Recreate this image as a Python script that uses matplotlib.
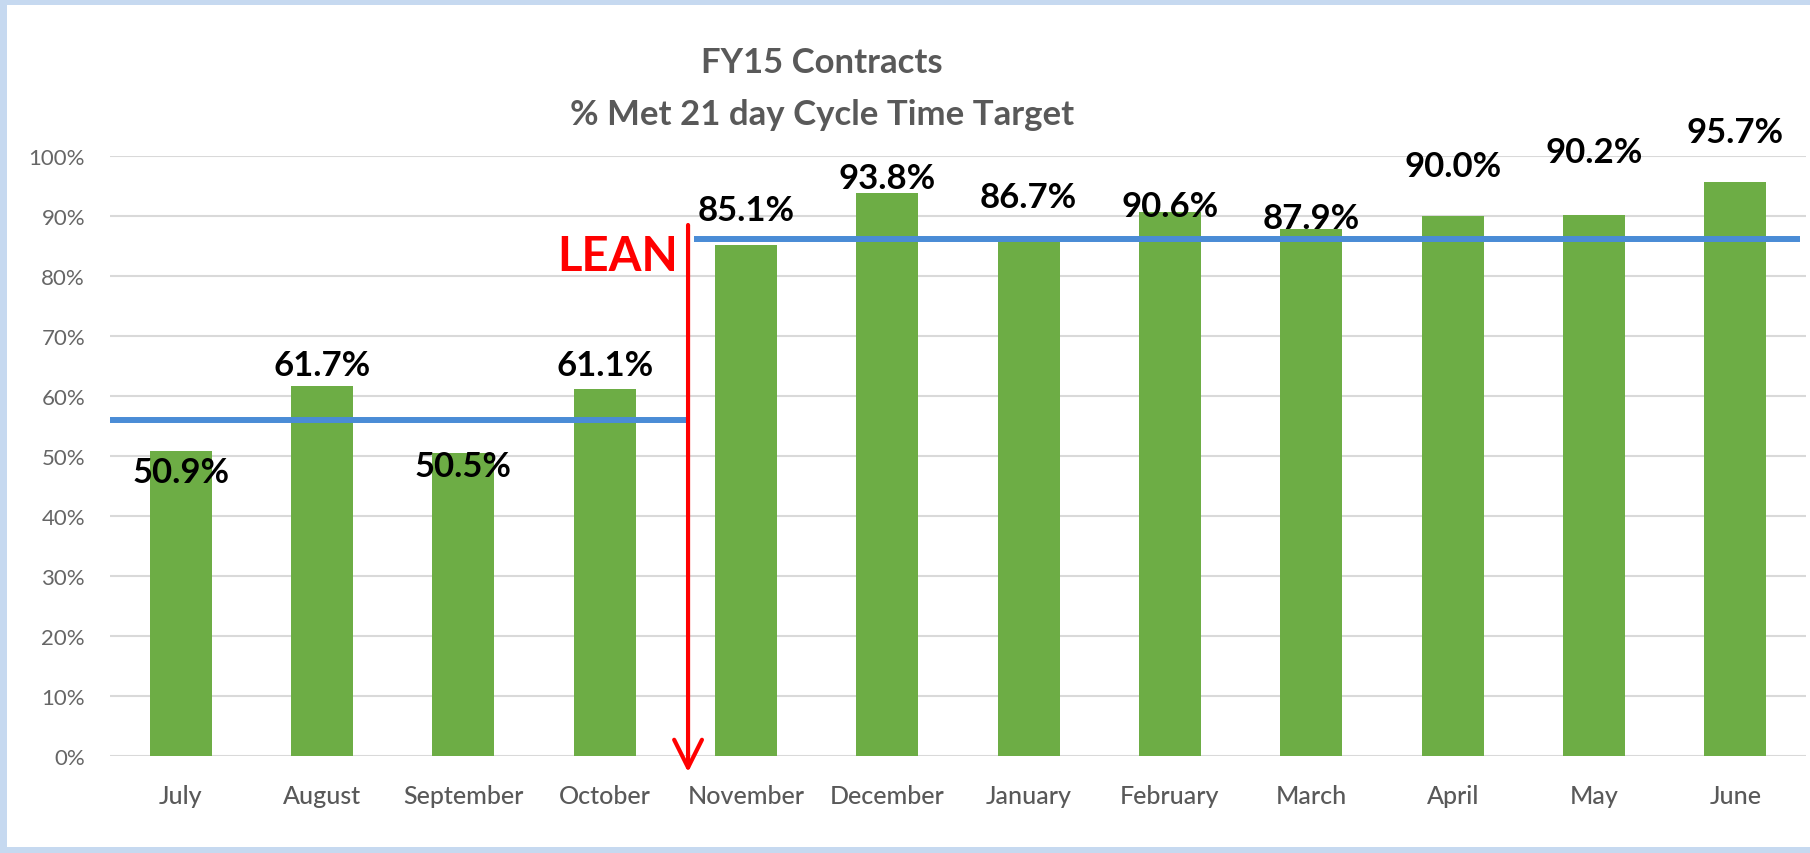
import matplotlib.pyplot as plt
import matplotlib as mpl
from matplotlib.patches import Rectangle
from matplotlib.ticker import PercentFormatter

mpl.rcParams['font.family'] = ['Lato', 'DejaVu Sans']

# data
months = ['July', 'August', 'September', 'October', 'November', 'December',
          'January', 'February', 'March', 'April', 'May', 'June']
pct_met = [50.9, 61.7, 50.5, 61.1, 85.1, 93.8, 86.7, 90.6, 87.9, 90.0, 90.2, 95.7]

# where each value label sits (in % units)
label_y = [47.4, 65.1, 48.4, 65.1, 91.0, 96.4, 93.1, 91.6, 89.6, 98.3, 100.6, 104.0]

# level lines before / after lean, and where lean started
pre_lean_level = 56.0
post_lean_level = 86.2
lean_x = 3.59

green = '#6DAD45'
blue = '#4A8CD6'
gray_txt = '#595959'

fig = plt.figure(figsize=(18.1, 8.54), dpi=100)
fig.patch.set_facecolor('#C6D9F0')
fig.add_artist(Rectangle((7 / 1810, 6 / 854), 1.0, 1 - 12 / 854,
                         transform=fig.transFigure, facecolor='white',
                         edgecolor='none', zorder=0))

ax = fig.add_axes([110 / 1810, 1 - 757 / 854, 1696 / 1810, 600 / 854])
ax.set_facecolor('none')

x = range(len(months))
ax.bar(x, pct_met, width=0.44, color=green, zorder=2)

ax.set_xlim(-0.5, len(months) - 0.5)
ax.set_ylim(0, 100)
ax.set_yticks(range(0, 101, 10))
ax.yaxis.set_major_formatter(PercentFormatter(decimals=0))
ax.set_xticks(list(x))
ax.set_xticklabels(months, fontweight='medium')
ax.tick_params(axis='x', length=0, pad=20, labelsize=18, labelcolor=gray_txt)
ax.tick_params(axis='y', length=0, pad=18, labelsize=16, labelcolor='#666666')
ax.grid(axis='y', color='#D9D9D9', linewidth=1.5, zorder=1)
for s in ax.spines.values():
    s.set_visible(False)

# value labels
for i, v in enumerate(pct_met):
    ax.text(i, label_y[i], f'{v:.1f}%', ha='center', va='center',
            fontsize=25, fontweight='bold', color='black', clip_on=False, zorder=4)

# level lines
ax.plot([-0.5, lean_x], [pre_lean_level] * 2, color=blue, lw=4.3,
        solid_capstyle='butt', zorder=3, clip_on=False)
ax.plot([lean_x + 0.04, 11.46], [post_lean_level] * 2, color=blue, lw=4.3,
        solid_capstyle='butt', zorder=3, clip_on=False)

# LEAN marker
ax.annotate('', xy=(lean_x, -2.7), xytext=(lean_x, 88.5),
            arrowprops=dict(arrowstyle='->,head_length=1.0,head_width=0.5',
                            color='red', lw=3, mutation_scale=20,
                            shrinkA=0, shrinkB=0),
            annotation_clip=False, zorder=5)
ax.text(lean_x - 0.07, 83.3, 'LEAN', ha='right', va='center', fontsize=34,
        fontweight='bold', color='red', zorder=5)

fig.text(822 / 1810, 1 - 63 / 854, 'FY15 Contracts', ha='center', va='center',
         fontsize=25, fontweight='bold', color=gray_txt)
fig.text(822 / 1810, 1 - 115 / 854, '% Met 21 day Cycle Time Target',
         ha='center', va='center', fontsize=25, fontweight='bold', color=gray_txt)

fig.savefig('out.png', dpi=100, facecolor=fig.get_facecolor())
